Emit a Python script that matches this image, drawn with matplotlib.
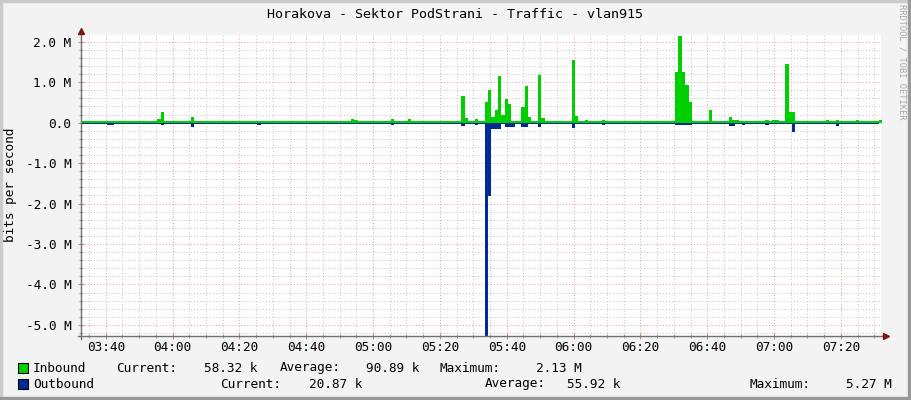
import numpy as np
import matplotlib
matplotlib.use("Agg")
import matplotlib.pyplot as plt
from matplotlib.ticker import MultipleLocator, FuncFormatter
from matplotlib.patches import Rectangle

plt.rcParams["font.family"] = ["DejaVu Sans Mono"]

# ---- data (values in Mbit/s, times as HH:MM) --------------------------------
title = "Horakova - Sektor PodStrani - Traffic - vlan915"
y_label = "bits per second"

start_time = "03:32"
end_time = "07:32"

inbound_base = 0.03
outbound_base = 0.025

inbound_times = ["03:40", "03:41", "03:45", "03:55", "03:56", "04:05", "04:14",
                 "04:50", "04:51", "04:53", "04:54", "05:05", "05:06", "05:07", "05:10",
                 "05:26", "05:27", "05:30", "05:31", "05:32", "05:33", "05:34", "05:35",
                 "05:36", "05:37", "05:38", "05:39", "05:40", "05:41", "05:42", "05:44",
                 "05:45", "05:46", "05:49", "05:50", "05:55", "05:56", "05:59", "06:00",
                 "06:03", "06:08", "06:09", "06:30", "06:31", "06:32", "06:33", "06:34",
                 "06:35", "06:40", "06:41", "06:46", "06:47", "06:48", "06:51", "06:54",
                 "06:55", "06:57", "06:59", "07:00", "07:03", "07:04", "07:05", "07:15",
                 "07:18", "07:24", "07:31"]
inbound_vals = [0.045, 0.045, 0.045, 0.1, 0.27, 0.13, 0.05,
                0.045, 0.045, 0.1, 0.06, 0.1, 0.05, 0.05, 0.08,
                0.65, 0.12, 0.1, 0.045, 0.045, 0.5, 0.8, 0.15,
                0.32, 1.14, 0.2, 0.59, 0.47, 0.045, 0.045, 0.38,
                0.91, 0.15, 1.18, 0.12, 0.05, 0.05, 1.55, 0.17,
                0.06, 0.07, 0.05, 1.24, 2.13, 1.26, 0.93, 0.5,
                0.045, 0.3, 0.045, 0.13, 0.07, 0.07, 0.05, 0.05,
                0.05, 0.07, 0.07, 0.07, 1.45, 0.25, 0.25, 0.06,
                0.06, 0.06, 0.058]

outbound_times = ["03:40", "03:41", "03:56", "04:05", "04:25", "05:05", "05:26",
                  "05:30", "05:33", "05:34", "05:35", "05:36", "05:37", "05:39",
                  "05:40", "05:41", "05:44", "05:45", "05:49", "05:59", "06:08",
                  "06:30", "06:31", "06:32", "06:33", "06:34", "06:46", "06:47",
                  "06:50", "06:57", "07:05", "07:18", "07:31"]
outbound_vals = [0.06, 0.06, 0.06, 0.12, 0.05, 0.06, 0.08,
                 0.05, 5.27, 1.82, 0.15, 0.17, 0.15, 0.1,
                 0.12, 0.1, 0.1, 0.1, 0.1, 0.13, 0.06,
                 0.07, 0.07, 0.07, 0.07, 0.07, 0.08, 0.08,
                 0.05, 0.06, 0.24, 0.09, 0.021]

legend_names = ["Inbound", "Outbound"]
legend_colors = ["#00CF00", "#002A97"]
stat_labels = ["Current:", "Average:", "Maximum:"]
inbound_stats = ["58.32 k", "90.89 k", "2.13 M"]
outbound_stats = ["20.87 k", "55.92 k", "5.27 M"]


def to_min(s):
    h, m = s.split(":")
    return int(h) * 60 + int(m)


t0, t1 = to_min(start_time), to_min(end_time)
minutes = np.arange(t0, t1 + 1)
inbound = np.full(len(minutes), inbound_base)
outbound = np.full(len(minutes), outbound_base)
for t, v in zip(inbound_times, inbound_vals):
    inbound[to_min(t) - t0] = v
for t, v in zip(outbound_times, outbound_vals):
    outbound[to_min(t) - t0] = v

# ---- figure ------------------------------------------------------------------
W, H = 911, 400
fig = plt.figure(figsize=(W / 100, H / 100), dpi=100, facecolor="#F3F3F3")

# canvas box in pixels
x0, x1, y0, y1 = 81, 881, 34.5, 335.7
ax = fig.add_axes([x0 / W, 1 - y1 / H, (x1 - x0) / W, (y1 - y0) / H])
ax.set_facecolor("white")

offset = 0.4  # rrdtool sample alignment
ax.fill_between(minutes + offset, 0, inbound, step="post", color=legend_colors[0], linewidth=0)
ax.fill_between(minutes + offset, 0, -outbound, step="post", color=legend_colors[1], linewidth=0)

ax.set_xlim(212.6, 452.0)
ax.set_ylim(-5.266, 2.177)

ax.xaxis.set_major_locator(MultipleLocator(20))
ax.xaxis.set_minor_locator(MultipleLocator(5))
ax.yaxis.set_major_locator(MultipleLocator(1))
ax.yaxis.set_minor_locator(MultipleLocator(0.2))
ax.xaxis.set_major_formatter(FuncFormatter(lambda v, p: f"{int(round(v)) // 60:02d}:{int(round(v)) % 60:02d}"))
ax.yaxis.set_major_formatter(FuncFormatter(lambda v, p: "0.0" if abs(v) < 1e-9 else f"{v:.1f} M"))

ax.grid(which="minor", color="#c8c8c8", linestyle=(0, (1, 2)), linewidth=0.75)
ax.grid(which="major", color="#f0a0a0", linestyle=(0, (1, 2)), linewidth=0.75)
ax.set_axisbelow(True)

ax.tick_params(which="both", direction="inout", labelsize=9.2, colors="black")
ax.tick_params(which="major", length=4, color="#e08080", width=0.8)
ax.tick_params(which="minor", length=3, color="#a0a0a0", width=0.8)
ax.tick_params(axis="y", pad=5)
ax.tick_params(axis="x", pad=2)

for side in ["top", "right", "left", "bottom"]:
    ax.spines[side].set_visible(False)
ax.plot([-0.004, 1.003], [0, 0], transform=ax.transAxes, color="#707070", lw=1, clip_on=False)
ax.plot([0, 0], [-0.01, 1.01], transform=ax.transAxes, color="#707070", lw=1, clip_on=False)
ax.plot([1.006], [0], marker=">", ms=4, color="#7f1515", transform=ax.transAxes, clip_on=False)
ax.plot([0], [1.012], marker="^", ms=4, color="#7f1515", transform=ax.transAxes, clip_on=False)

fig.text(11 / W, 1 - 185 / H, y_label, rotation=90, ha="center", va="center", fontsize=9.2)
fig.text(455 / W, 1 - 15 / H, title, ha="center", va="center", fontsize=9.6)
fig.text(902 / W, 1 - 62 / H, "RRDTOOL / TOBI OETIKER", rotation=270, ha="center", va="center",
         fontsize=6.2, color="#a8a8a8")

# ---- legend ------------------------------------------------------------------
rows = [
    (368, inbound_stats, [116, 280, 440], [204, 366, 536]),
    (384, outbound_stats, [220, 485, 750], [309, 567, 846]),
]
for (yc, stats, lab_x, val_x), name, color in zip(rows, legend_names, legend_colors):
    fig.patches.append(Rectangle((17.5 / W, 1 - (yc + 5) / H), 10 / W, 10 / H, transform=fig.transFigure,
                                 facecolor=color, edgecolor="black", linewidth=0.8))
    fig.text(33 / W, 1 - yc / H, name, va="center", fontsize=9.2)
    for lab, lx, val, vx in zip(stat_labels, lab_x, stats, val_x):
        fig.text(lx / W, 1 - yc / H, lab, va="center", fontsize=9.2)
        fig.text(vx / W, 1 - yc / H, val, va="center", fontsize=9.2)

# image frame (light top/left, dark bottom/right)
fig.patches.append(Rectangle((0, 1 - 2 / H), 1, 2 / H, transform=fig.transFigure, color="#cbcbcb"))
fig.patches.append(Rectangle((0, 0), 2 / W, 1, transform=fig.transFigure, color="#cbcbcb"))
fig.patches.append(Rectangle((0, 0), 1, 3 / H, transform=fig.transFigure, color="#999999"))
fig.patches.append(Rectangle((1 - 3 / W, 0), 3 / W, 1, transform=fig.transFigure, color="#999999"))

fig.savefig("out.png", dpi=100, facecolor=fig.get_facecolor())
